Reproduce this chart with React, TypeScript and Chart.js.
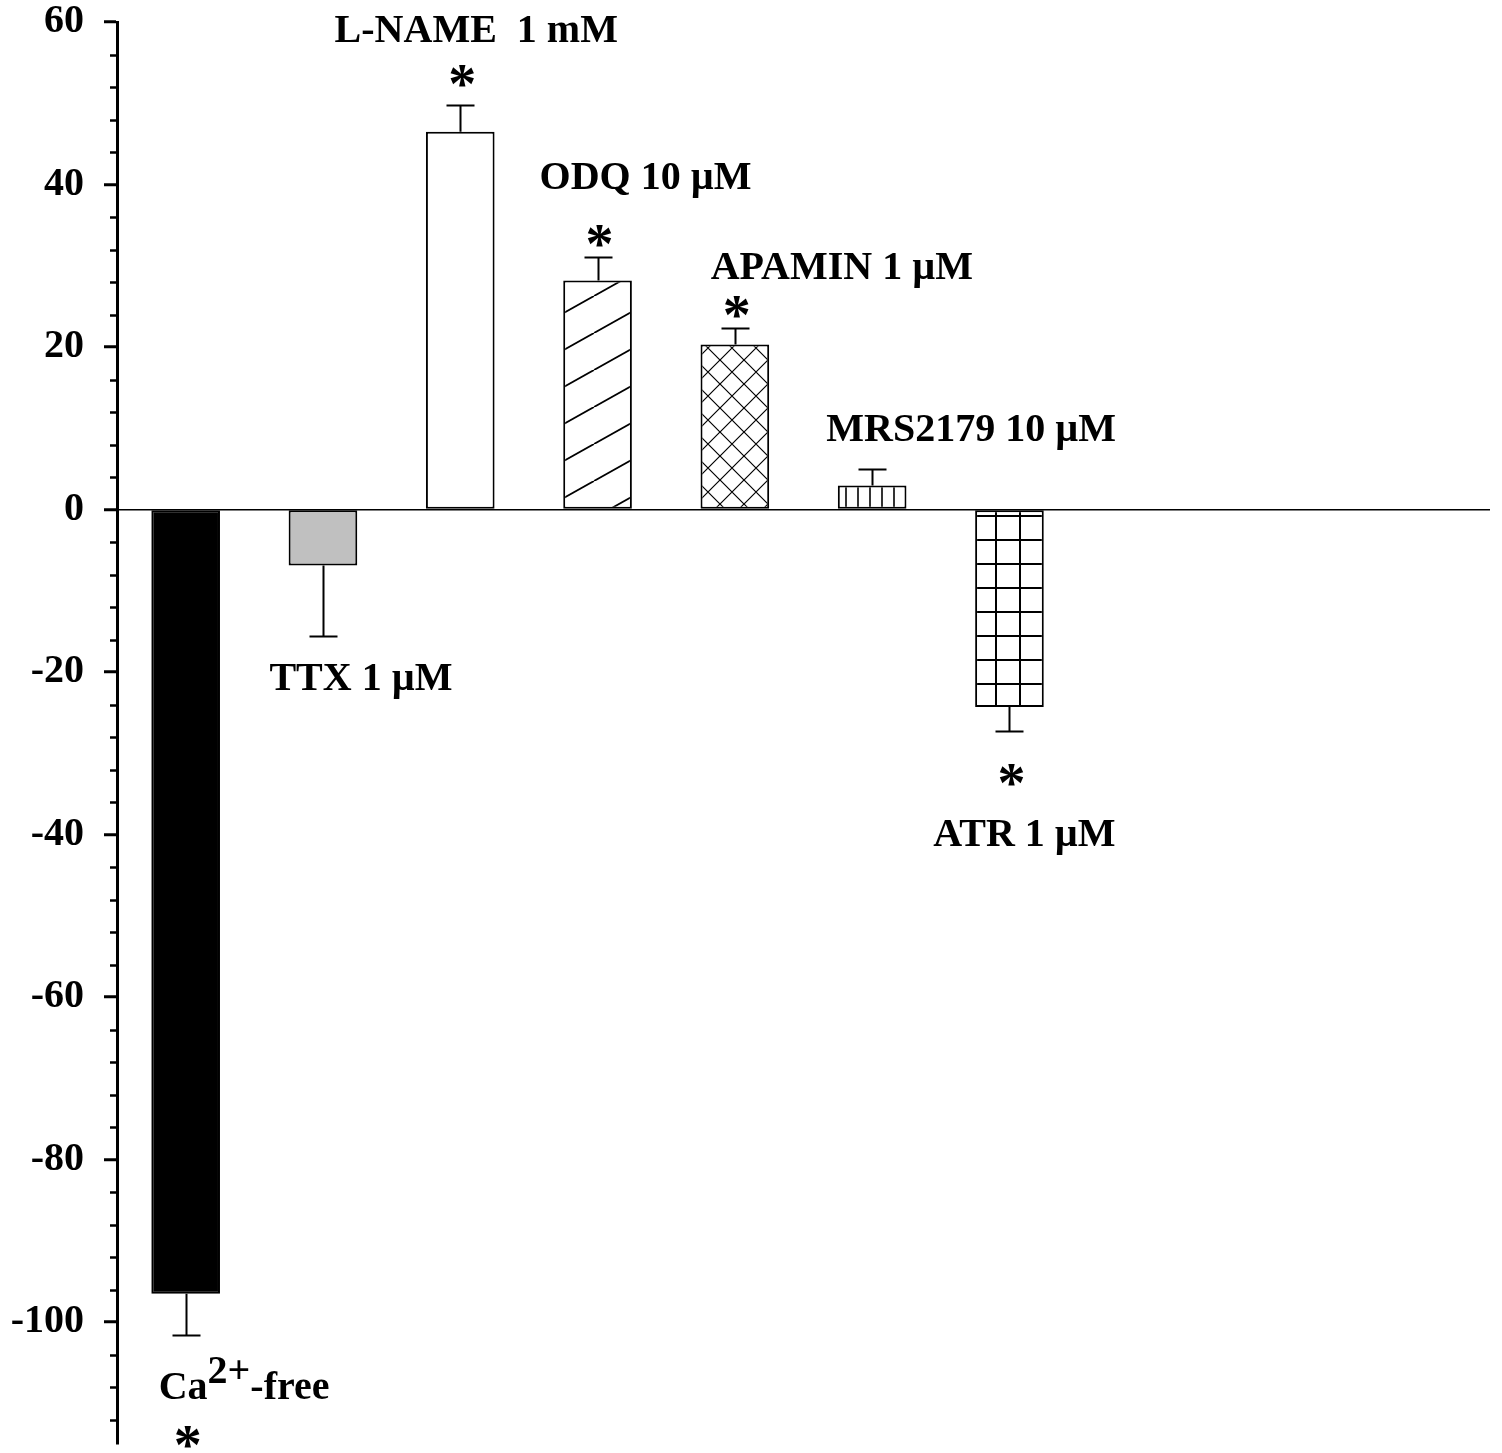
import React, { useEffect, useRef } from "react";
import { Chart, registerables } from "chart.js";

Chart.register(...registerables);

// ---- data ----
const categories = ["Ca2+-free", "TTX 1 µM", "L-NAME 1 mM", "ODQ 10 µM", "APAMIN 1 µM", "MRS2179 10 µM", "ATR 1 µM", "", "", ""];
const means: (number | null)[] = [-96.5, -6.9, 46.5, 28.2, 20.3, 2.95, -24.3, null, null, null];
const errors: (number | null)[] = [5.1, 8.7, 3.3, 2.85, 2.1, 2.05, 3.0, null, null, null];
const significant = [true, false, true, true, true, false, true];
const majorTicks = [-100, -80, -60, -40, -20, 0, 20, 40, 60];
const yMin = -115;
const yMax = 60;
const minorStep = 4;

// label texts and anchors (category index, horizontal offset px, baseline in y units)
const labelTexts = ["L-NAME  1 mM", "ODQ 10 µM", "APAMIN 1 µM", "MRS2179 10 µM", "TTX 1 µM", "ATR 1 µM"];
const labelIndex = [2, 3, 4, 5, 1, 6];
const labelDx = [16, 48, 107, 99, 38, 15];
const labelY = [57.5, 39.5, 28.4, 8.4, -22.2, -41.4];
// asterisk centre positions (y units)
const starIndex = [0, 2, 3, 4, 6];
const starY = [-114.2, 53.3, 33.7, 24.9, -32.7];

const FONT = '"Liberation Serif", "Times New Roman", serif';

function makePattern(w: number, h: number, draw: (g: CanvasRenderingContext2D, w: number, h: number) => void) {
  const c = document.createElement("canvas");
  c.width = w;
  c.height = h;
  const g = c.getContext("2d")!;
  g.fillStyle = "#fff";
  g.fillRect(0, 0, w, h);
  g.strokeStyle = "#000";
  draw(g, w, h);
  return g.createPattern(c, "repeat")!;
}

export default function App() {
  const ref = useRef<HTMLCanvasElement>(null);
  useEffect(() => {
    const canvas = ref.current!;
    const diag = makePattern(66, 37, (g, w, h) => {
      g.lineWidth = 1.8;
      for (const o of [-w, 0, w]) {
        g.beginPath();
        g.moveTo(o, h);
        g.lineTo(o + w, 0);
        g.stroke();
      }
    });
    const cross = makePattern(24, 24, (g, w, h) => {
      g.lineWidth = 1.2;
      for (const o of [-w, 0, w]) {
        g.beginPath();
        g.moveTo(o, h);
        g.lineTo(o + w, 0);
        g.moveTo(o, 0);
        g.lineTo(o + w, h);
        g.stroke();
      }
    });
    const vert = makePattern(12, 4, (g, w, h) => {
      g.lineWidth = 1.6;
      g.beginPath();
      g.moveTo(6, 0);
      g.lineTo(6, h);
      g.stroke();
    });
    const grid = makePattern(24, 24, (g, w, h) => {
      g.lineWidth = 2;
      g.beginPath();
      g.moveTo(12, 0);
      g.lineTo(12, h);
      g.moveTo(0, 12);
      g.lineTo(w, 12);
      g.stroke();
    });
    const fills = ["#000000", "#c0c0c0", "#ffffff", diag, cross, vert, grid, "#fff", "#fff", "#fff"];

    const extras = {
      id: "extras",
      afterDatasetsDraw(chart: any) {
        const ctx = chart.ctx as CanvasRenderingContext2D;
        const y = chart.scales.y;
        const x = chart.scales.x;
        const meta = chart.getDatasetMeta(0);
        ctx.save();
        // error bars
        ctx.strokeStyle = "#000";
        ctx.lineWidth = 2;
        means.forEach((m, i) => {
          const e = errors[i];
          if (m == null || e == null) return;
          const bar = meta.data[i];
          const cx = Math.round(bar.x) + 0.5;
          const y0 = y.getPixelForValue(m);
          const y1 = y.getPixelForValue(m >= 0 ? m + e : m - e);
          ctx.beginPath();
          ctx.moveTo(cx, y0);
          ctx.lineTo(cx, y1);
          ctx.moveTo(cx - 14, Math.round(y1) + 0.5);
          ctx.lineTo(cx + 14, Math.round(y1) + 0.5);
          ctx.stroke();
        });
        // minor ticks
        ctx.lineWidth = 2.5;
        const left = chart.chartArea.left;
        for (let v = Math.ceil(yMin / minorStep) * minorStep; v <= yMax; v += minorStep) {
          if (v % 20 === 0) continue;
          const py = Math.round(y.getPixelForValue(v)) + 0.5;
          ctx.beginPath();
          ctx.moveTo(left - 7, py);
          ctx.lineTo(left, py);
          ctx.stroke();
        }
        // labels
        ctx.fillStyle = "#000";
        ctx.font = `bold 40px ${FONT}`;
        ctx.textBaseline = "alphabetic";
        ctx.textAlign = "center";
        labelTexts.forEach((t, k) => {
          const px = x.getPixelForValue(labelIndex[k]) + labelDx[k];
          ctx.fillText(t, px, y.getPixelForValue(labelY[k]));
        });
        // Ca2+-free with superscript
        {
          let px = x.getPixelForValue(0) - 27;
          const by = y.getPixelForValue(-109.5);
          ctx.textAlign = "left";
          ctx.fillText("Ca", px, by);
          px += ctx.measureText("Ca").width;
          ctx.fillText("2+", px, by - 16);
          px += ctx.measureText("2+").width;
          ctx.fillText("-free", px, by);
        }
        // asterisks
        ctx.textAlign = "center";
        ctx.font = `bold 56px ${FONT}`;
        starIndex.forEach((idx, k) => {
          if (!significant[idx]) return;
          const mt = ctx.measureText("*");
          const asc = mt.actualBoundingBoxAscent;
          const desc = mt.actualBoundingBoxDescent;
          const cy = y.getPixelForValue(starY[k]);
          const px = x.getPixelForValue(idx) + 2;
          ctx.fillText("*", px, cy + (asc - desc) / 2);
        });
        ctx.restore();
      },
    };

    const chart = new Chart(canvas, {
      type: "bar",
      data: {
        labels: categories,
        datasets: [
          {
            data: means as any,
            backgroundColor: fills as any,
            borderColor: "#000",
            borderWidth: 2,
            borderSkipped: false,
            barPercentage: 0.5,
            categoryPercentage: 1,
          },
        ],
      },
      options: {
        responsive: false,
        animation: false,
        layout: { padding: { top: 22, bottom: 9, right: 12, left: 0 } },
        plugins: { legend: { display: false }, tooltip: { enabled: false } },
        scales: {
          x: { display: false, offset: true },
          y: {
            min: yMin,
            max: yMax,
            afterBuildTicks: (s: any) => {
              s.ticks = majorTicks.map((v) => ({ value: v }));
            },
            afterFit: (s: any) => {
              s.width = 117;
              s.paddingTop = 0;
              s.paddingBottom = 0;
            },
            ticks: {
              color: "#000",
              font: { family: FONT, size: 40, weight: "bold" },
              padding: 20,
              callback: (v: any) => String(v),
            },
            grid: {
              color: (c: any) => (c.tick && c.tick.value === 0 ? "#000" : "rgba(0,0,0,0)"),
              lineWidth: 1.5,
              tickColor: "#000",
              tickLength: 13,
              tickWidth: 3,
              drawTicks: true,
            },
            border: { display: true, color: "#000", width: 3 },
          },
        },
      },
      plugins: [extras],
    } as any);
    return () => chart.destroy();
  }, []);

  return (
    <div style={{ position: "absolute", left: 0, top: 0, width: 1502, height: 1453, background: "#fff" }}>
      <canvas ref={ref} width={1502} height={1453} />
    </div>
  );
}
